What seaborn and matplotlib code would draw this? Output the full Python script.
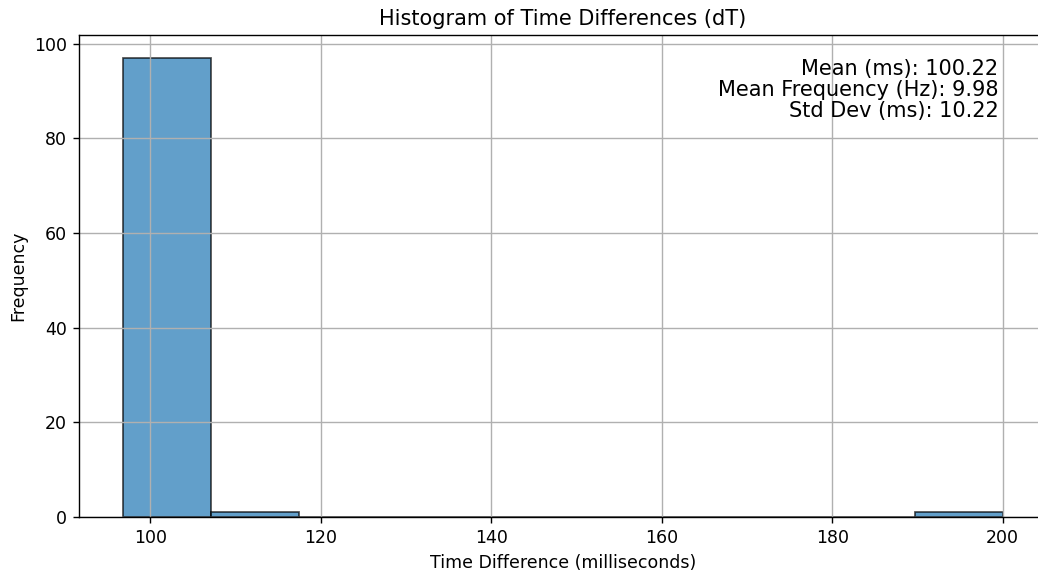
import numpy as np
import pandas as pd
import matplotlib
matplotlib.use("Agg")
import matplotlib.pyplot as plt
import seaborn as sns

# Histogram data
bin_edges = [96.8, 107.12, 117.44, 127.76, 138.08, 148.4, 158.72, 169.04, 179.36, 189.68, 200.0]
counts = [97, 1, 0, 0, 0, 0, 0, 0, 0, 1]
mean_ms = 100.22
mean_hz = 9.98
std_ms = 10.22

s = 1.25
plt.rcParams.update({
    "font.size": 10 * s,
    "axes.titlesize": 12 * s,
    "axes.labelsize": 10 * s,
    "xtick.labelsize": 10 * s,
    "ytick.labelsize": 10 * s,
    "axes.linewidth": 0.8 * s,
    "grid.linewidth": 0.8 * s,
    "xtick.major.size": 3.5 * s,
    "ytick.major.size": 3.5 * s,
    "xtick.major.width": 0.8 * s,
    "ytick.major.width": 0.8 * s,
    "xtick.major.pad": 3.5 * s,
    "ytick.major.pad": 3.5 * s,
    "axes.titlepad": 6 * s,
    "axes.labelpad": 4 * s,
})

edges = np.array(bin_edges)
centers = (edges[:-1] + edges[1:]) / 2
df = pd.DataFrame({"dt": centers, "count": counts})

fig = plt.figure(figsize=(10.38, 5.74), dpi=100)
W, H = 1038, 574
left, right, top, bottom = 79, 1046.7, 35, 517
ax = fig.add_axes([left / W, (H - bottom) / H, (right - left) / W, (bottom - top) / H])

sns.histplot(data=df, x="dt", weights="count", bins=bin_edges, ax=ax,
             color="#1f77b4", alpha=0.7, edgecolor=(0, 0, 0, 0.7), linewidth=1 * s)

ax.set_title("Histogram of Time Differences (dT)")
ax.set_xlabel("Time Difference (milliseconds)")
ax.set_ylabel("Frequency")
ax.grid(True)
ax.set_xticks([100, 120, 140, 160, 180, 200])

stats = f"Mean (ms): {mean_ms:.2f}\nMean Frequency (Hz): {mean_hz:.2f}\nStd Dev (ms): {std_ms:.2f}"
ax.text(0.95, 0.95, stats, transform=ax.transAxes, ha="right", va="top",
        fontsize=12 * s, linespacing=1.05)

fig.savefig("out.png", dpi=100)
